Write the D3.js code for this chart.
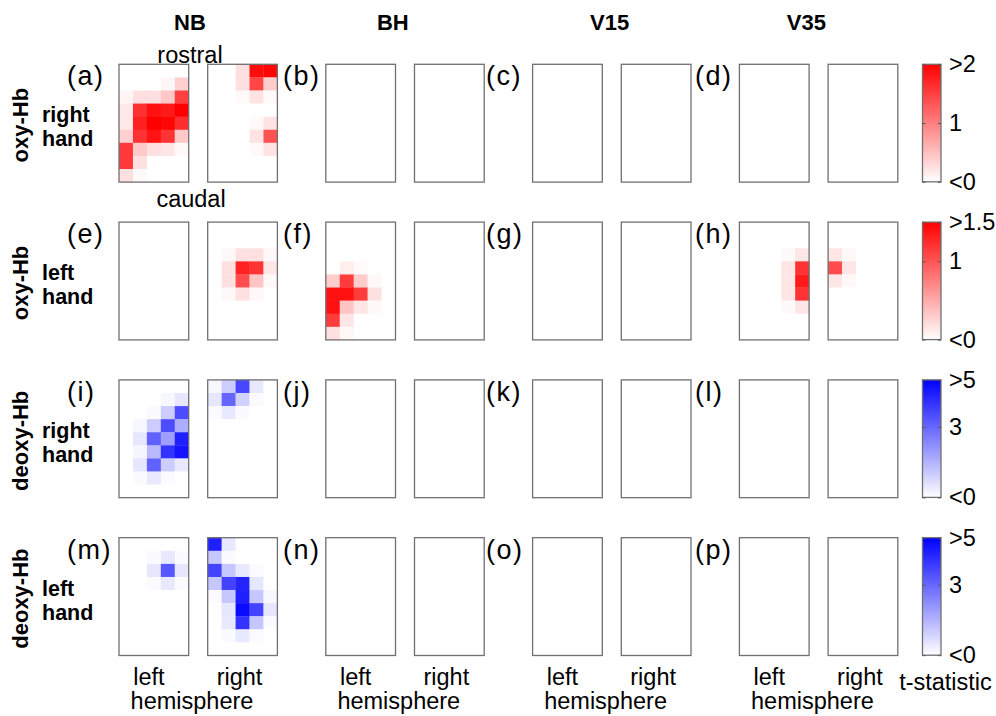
<!DOCTYPE html>
<html>
<head>
<meta charset="utf-8">
<script src="https://cdn.jsdelivr.net/npm/d3@7"></script>
<style>
  body { margin: 0; background: #fff; }
  svg { display: block; font-family: "Liberation Sans", Arial, Helvetica, sans-serif; }
</style>
</head>
<body>
<div id="chart"></div>
<script>
// ------------------------------------------------------------- Data
var groups       = ['NB', 'BH', 'V15', 'V35'];
var hemispheres  = ['left', 'right'];
var signals      = ['oxy-Hb', 'oxy-Hb', 'deoxy-Hb', 'deoxy-Hb'];
var hands        = [['right', 'hand'], ['left', 'hand'], ['right', 'hand'], ['left', 'hand']];
var panelLetters = ['a','b','c','d','e','f','g','h','i','j','k','l','m','n','o','p'];
var cbMax        = [2, 1.5, 5, 5];
var cbTicks      = [[0, 1, 2], [0, 1, 1.5], [0, 3, 5], [0, 3, 5]];
var cbTickLabels = [['<0', '1', '>2'], ['<0', '1', '>1.5'], ['<0', '3', '>5'], ['<0', '3', '>5']];

// t-statistic per channel, 9 rows (rostral -> caudal) x 5 columns
var nbOxyRightHandL = [
  [0, 0, 0, 0, 0],
  [0, 0, 0, 0.06, 0.37],
  [0.08, 0.25, 0.25, 0.44, 1.5],
  [0.18, 1.62, 1.87, 1.8, 2.3],
  [0.18, 1.75, 2.2, 1.95, 1.65],
  [0.37, 1.6, 1.85, 1.6, 0.42],
  [1.55, 0.42, 0.25, 0.2, 0.05],
  [1.55, 0.25, 0, 0, 0],
  [0.25, 0.04, 0, 0, 0]
];
var nbOxyRightHandR = [
  [0, 0, 0.25, 1.9, 1.95],
  [0, 0, 0.25, 1.45, 0.4],
  [0, 0, 0.05, 0.22, 0.05],
  [0, 0, 0, 0, 0],
  [0, 0, 0, 0.05, 0.22],
  [0, 0, 0, 0.22, 1.35],
  [0, 0, 0, 0.05, 0.22],
  [0, 0, 0, 0, 0],
  [0, 0, 0, 0, 0]
];
var nbOxyLeftHandR = [
  [0, 0, 0, 0, 0],
  [0, 0, 0, 0, 0],
  [0, 0.04, 0.18, 0.18, 0.04],
  [0, 0.18, 1.3, 1.2, 0.15],
  [0, 0.18, 1.05, 0.35, 0.04],
  [0, 0.04, 0.18, 0.04, 0],
  [0, 0, 0, 0, 0],
  [0, 0, 0, 0, 0],
  [0, 0, 0, 0, 0]
];
var bhOxyLeftHandL = [
  [0, 0, 0, 0, 0],
  [0, 0, 0, 0, 0],
  [0, 0, 0, 0, 0],
  [0, 0.1, 0.03, 0, 0],
  [0.3, 1.15, 0.3, 0.04, 0],
  [1.4, 1.4, 1.15, 0.18, 0],
  [1.4, 0.35, 0.15, 0.04, 0],
  [1.15, 0.15, 0, 0, 0],
  [0.18, 0.04, 0, 0, 0]
];
var v35OxyLeftHandL = [
  [0, 0, 0, 0, 0],
  [0, 0, 0, 0, 0],
  [0, 0, 0, 0.03, 0.15],
  [0, 0, 0, 0.15, 1.2],
  [0, 0, 0, 0.15, 1.35],
  [0, 0, 0, 0.15, 1.2],
  [0, 0, 0, 0.03, 0.15],
  [0, 0, 0, 0, 0],
  [0, 0, 0, 0, 0]
];
var v35OxyLeftHandR = [
  [0, 0, 0, 0, 0],
  [0, 0, 0, 0, 0],
  [0.15, 0.04, 0, 0, 0],
  [1.05, 0.15, 0, 0, 0],
  [0.15, 0.04, 0, 0, 0],
  [0, 0, 0, 0, 0],
  [0, 0, 0, 0, 0],
  [0, 0, 0, 0, 0],
  [0, 0, 0, 0, 0]
];
var nbDeoxyRightHandL = [
  [0, 0, 0, 0, 0],
  [0, 0, 0, 0.15, 0.5],
  [0, 0, 0.1, 1.0, 3.5],
  [0, 0.15, 1.0, 3.5, 1.6],
  [0, 0.5, 3.1, 1.9, 4.4],
  [0, 0.2, 1.4, 4.0, 4.6],
  [0, 0.5, 3.1, 1.0, 0.45],
  [0, 0.1, 0.45, 0.1, 0],
  [0, 0, 0, 0, 0]
];
var nbDeoxyRightHandR = [
  [0.15, 1.0, 3.6, 0.45, 0],
  [0.5, 3.0, 0.9, 0.1, 0],
  [0.1, 0.45, 0.1, 0, 0],
  [0, 0, 0, 0, 0],
  [0, 0, 0, 0, 0],
  [0, 0, 0, 0, 0],
  [0, 0, 0, 0, 0],
  [0, 0, 0, 0, 0],
  [0, 0, 0, 0, 0]
];
var nbDeoxyLeftHandL = [
  [0, 0, 0, 0, 0],
  [0, 0, 0.1, 0.45, 0.1],
  [0, 0, 0.5, 3.3, 0.5],
  [0, 0, 0.1, 0.45, 0.1],
  [0, 0, 0, 0, 0],
  [0, 0, 0, 0, 0],
  [0, 0, 0, 0, 0],
  [0, 0, 0, 0, 0],
  [0, 0, 0, 0, 0]
];
var nbDeoxyLeftHandR = [
  [4.4, 0.45, 0, 0, 0],
  [1.1, 0.1, 0, 0, 0],
  [3.7, 1.1, 0.45, 0.1, 0],
  [1.1, 3.7, 4.3, 0.5, 0],
  [0.1, 1.1, 4.4, 1.1, 0.15],
  [0, 0.5, 4.8, 3.7, 0.5],
  [0, 0.45, 4.0, 1.1, 0.1],
  [0, 0.1, 0.45, 0.1, 0],
  [0, 0, 0, 0, 0]
];
// ------------------------------------------------------------ /Data

// panels with no significant channel stay empty
var maps = {
  '0-NB-left':  nbOxyRightHandL,
  '0-NB-right': nbOxyRightHandR,
  '1-NB-right': nbOxyLeftHandR,
  '1-BH-left':  bhOxyLeftHandL,
  '1-V35-left': v35OxyLeftHandL,
  '1-V35-right': v35OxyLeftHandR,
  '2-NB-left':  nbDeoxyRightHandL,
  '2-NB-right': nbDeoxyRightHandR,
  '3-NB-left':  nbDeoxyLeftHandL,
  '3-NB-right': nbDeoxyLeftHandR
};
var rowColors = ['#ff0000', '#ff0000', '#0000ff', '#0000ff'];

var width = 996, height = 716;
var boxW = 69.7, boxH = 117.8, hemiGap = 88.7;
var cbX = 922.5, cbW = 18.5, cbH = 117.5;
var titleDx  = [71, 67, 77, 67];
var letterX  = [67, 283, 486, 695];

var gx = d3.scaleLinear().domain([0, 3]).range([119, 739.4]);
var ry = d3.scaleLinear().domain([0, 3]).range([64.3, 537.7]);
var cx = d3.scaleBand().domain(d3.range(5)).range([0, boxW]);
var cy = d3.scaleBand().domain(d3.range(9)).range([0, boxH]);

var svg = d3.select('#chart').append('svg')
    .attr('width', width)
    .attr('height', height);

var defs = svg.append('defs');

// column titles
svg.selectAll('.group-title')
    .data(groups)
  .enter().append('text')
    .attr('class', 'group-title')
    .attr('x', function(d, i) { return gx(i) + titleDx[i]; })
    .attr('y', 30)
    .attr('text-anchor', 'middle')
    .style('font-weight', 'bold')
    .style('font-size', '22px')
    .text(function(d) { return d; });

svg.append('text')
    .attr('x', 190).attr('y', 63)
    .attr('text-anchor', 'middle')
    .style('font-size', '23.5px')
    .text('rostral');
svg.append('text')
    .attr('x', 191).attr('y', 206.5)
    .attr('text-anchor', 'middle')
    .style('font-size', '23.5px')
    .text('caudal');

signals.forEach(function(sig, r) {
  var top = ry(r);
  var color = d3.scaleLinear()
      .domain([0, cbMax[r]])
      .range(['#ffffff', rowColors[r]])
      .clamp(true);

  // row labels
  svg.append('text')
      .attr('transform', 'translate(28,' + (top + boxH / 2 + 2) + ') rotate(-90)')
      .attr('text-anchor', 'middle')
      .style('font-weight', 'bold')
      .style('font-size', '22px')
      .text(sig);
  svg.append('text')
      .attr('x', 42)
      .attr('y', top + boxH / 2 - 1)
      .style('font-weight', 'bold')
      .style('font-size', '21.5px')
    .selectAll('tspan')
      .data(hands[r])
    .enter().append('tspan')
      .attr('x', 42)
      .attr('dy', function(d, i) { return i ? 24 : 0; })
      .text(function(d) { return d; });

  groups.forEach(function(grp, g) {
    svg.append('text')
        .attr('x', letterX[g])
        .attr('y', top + 21)
        .style('font-size', '27px')
        .style('letter-spacing', '1.5px')
        .text('(' + panelLetters[r * 4 + g] + ')');

    hemispheres.forEach(function(hemi, h) {
      var panel = svg.append('g')
          .attr('transform', 'translate(' + (gx(g) + h * hemiGap) + ',' + top + ')');
      var m = maps[r + '-' + grp + '-' + hemi];
      if (m) {
        var cells = [];
        m.forEach(function(row, i) {
          row.forEach(function(v, j) { cells.push({row: i, col: j, t: v}); });
        });
        panel.selectAll('rect.cell')
            .data(cells)
          .enter().append('rect')
            .attr('class', 'cell')
            .attr('x', function(d) { return cx(d.col); })
            .attr('y', function(d) { return cy(d.row); })
            .attr('width', cx.bandwidth() + 0.3)
            .attr('height', cy.bandwidth() + 0.3)
            .attr('fill', function(d) { return color(d.t); });
      }
      panel.append('rect')
          .attr('width', boxW)
          .attr('height', boxH)
          .attr('fill', 'none')
          .attr('stroke', '#707070')
          .attr('stroke-width', 1.3);
    });
  });

  // colorbar
  var gid = 'cb' + r;
  var grad = defs.append('linearGradient')
      .attr('id', gid)
      .attr('x1', 0).attr('y1', 1).attr('x2', 0).attr('y2', 0);
  grad.append('stop').attr('offset', '0%').attr('stop-color', '#ffffff');
  grad.append('stop').attr('offset', '100%').attr('stop-color', rowColors[r]);

  var cy2 = d3.scaleLinear().domain([0, cbMax[r]]).range([top + cbH, top]);
  svg.append('rect')
      .attr('x', cbX).attr('y', top)
      .attr('width', cbW).attr('height', cbH)
      .attr('fill', 'url(#' + gid + ')')
      .attr('stroke', '#707070')
      .attr('stroke-width', 1.3);

  var labels = cbTickLabels[r];
  var axisR = d3.axisRight(cy2)
      .tickValues(cbTicks[r])
      .tickSize(-3)
      .tickPadding(8)
      .tickFormat(function(d, i) { return labels[i]; });
  var ax = svg.append('g')
      .attr('transform', 'translate(' + (cbX + cbW) + ',0)')
      .call(axisR);
  ax.select('.domain').remove();
  ax.selectAll('line').attr('stroke', '#555');
  ax.selectAll('text')
      .attr('fill', '#000')
      .style('font-family', '"Liberation Sans", Arial, sans-serif')
      .style('font-size', '23.5px');

  var axisL = d3.axisLeft(cy2).tickValues(cbTicks[r]).tickSize(-3).tickFormat('');
  var axl = svg.append('g')
      .attr('transform', 'translate(' + cbX + ',0)')
      .call(axisL);
  axl.select('.domain').remove();
  axl.selectAll('line').attr('stroke', '#555');
});

// hemisphere labels
var bottom = svg.append('g')
    .style('font-size', '23.5px')
    .attr('text-anchor', 'middle');
groups.forEach(function(grp, g) {
  bottom.append('text')
      .attr('x', gx(g) + boxW / 2 - 5).attr('y', 685)
      .text('left');
  bottom.append('text')
      .attr('x', gx(g) + hemiGap + boxW / 2 - 3).attr('y', 685)
      .text('right');
  bottom.append('text')
      .attr('x', gx(g) + 73).attr('y', 709)
      .text('hemisphere');
});
bottom.append('text')
    .attr('x', 945.5).attr('y', 690)
    .text('t-statistic');
</script>
</body>
</html>
